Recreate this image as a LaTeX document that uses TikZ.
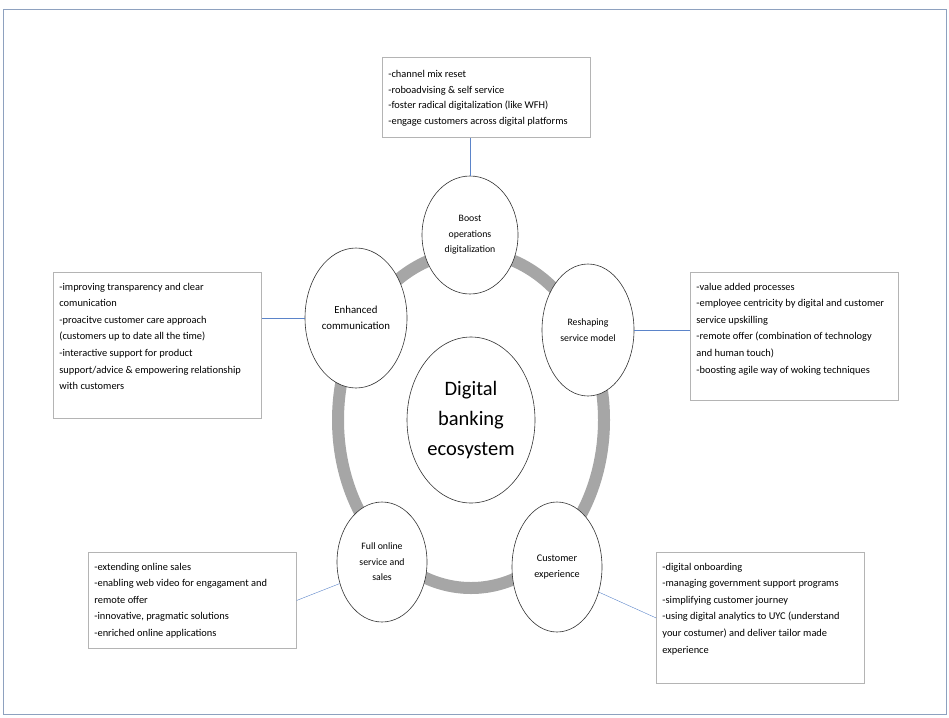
\documentclass[tikz,border=0pt]{standalone}
\usepackage{fontspec}
\setmainfont{Carlito}
\usepackage{xcolor}
\usetikzlibrary{shapes.geometric}
\definecolor{ringgray}{HTML}{A6A6A6}
\definecolor{linkblue}{HTML}{5B84C9}
\definecolor{framegray}{HTML}{8EA1BF}
\definecolor{notegray}{HTML}{B4B4B4}
\newcommand{\notetext}[2]{\parbox[t][#1][t]{196pt}{\raggedright #2}}

\begin{document}
\begin{tikzpicture}[x=1pt,y=-1pt,semithick]
 \tikzstyle{topic}=[draw=black!80, ellipse, fill=white, inner sep=0pt, align=center, font=\fontsize{9.8}{15.5}\selectfont]
 \tikzstyle{note}=[draw=notegray, thick, fill=white, anchor=north west, inner xsep=6pt, inner ysep=10.5pt, font=\fontsize{10.4}{16.6}\selectfont]
 \tikzstyle{link}=[draw=linkblue, thin]

 \useasboundingbox (0,0) rectangle (949,717);
 \draw[framegray, thick] (3,9) rectangle (946,714);

 % grey ring behind the topics
 \draw[ringgray, line width=12pt] (471,420) ellipse [x radius=133pt, y radius=168pt];

 \node[topic, minimum width=128pt, minimum height=166pt, font=\fontsize{20.5}{30}\selectfont] (hub) at (471,420) {Digital\\banking\\ecosystem};
 \node[topic, minimum width=96pt, minimum height=118pt] (boost) at (470,235) {Boost\\operations\\digitalization};
 \node[topic, minimum width=102pt, minimum height=140pt, font=\fontsize{10.8}{16}\selectfont] (comm) at (356,318) {Enhanced\\communication};
 \node[topic, minimum width=92pt, minimum height=132pt] (reshape) at (588,330) {Reshaping\\service model};
 \node[topic, minimum width=90pt, minimum height=120pt] (online) at (382,562) {Full online\\service and\\sales};
 \node[topic, minimum width=90pt, minimum height=130pt, font=\fontsize{10.2}{15.5}\selectfont] (custexp) at (557,567) {Customer\\experience};

 % notes
 \node[note, inner ysep=13pt] (nboost) at (382,57) {\notetext{54pt}{\fontsize{10.4}{15.6}\selectfont -channel mix reset\\-roboadvising \& self service\\-foster radical digitalization (like WFH)\\-engage customers across digital platforms}};
 \node[note] (ncomm) at (53,272) {\notetext{125pt}{-improving transparency and clear\\comunication\\-proacitve customer care approach\\(customers up to date all the time)\\-interactive support for product\\support/advice \& empowering relationship\\with customers}};
 \node[note] (nreshape) at (690,272) {\notetext{107pt}{-value added processes\\-employee centricity by digital and customer\\service upskilling\\-remote offer (combination of technology\\and human touch)\\-boosting agile way of woking techniques}};
 \node[note] (nonline) at (88,552) {\notetext{75pt}{-extending online sales\\-enabling web video for engagament and\\remote offer\\-innovative, pragmatic solutions\\-enriched online applications}};
 \node[note] (ncustexp) at (656,552) {\notetext{110pt}{-digital onboarding\\-managing government support programs\\-simplifying customer journey\\-using digital analytics to UYC (understand\\your costumer) and deliver tailor made\\experience}};

 \path[link]
  (boost.north) edge (boost.north |- nboost.south)
  (comm.west) edge (comm.west -| ncomm.east)
  (reshape.east) edge (reshape.east -| nreshape.west)
  (online.207) edge (nonline.east)
  (custexp.-31) edge (ncustexp.west);
\end{tikzpicture}
\end{document}
